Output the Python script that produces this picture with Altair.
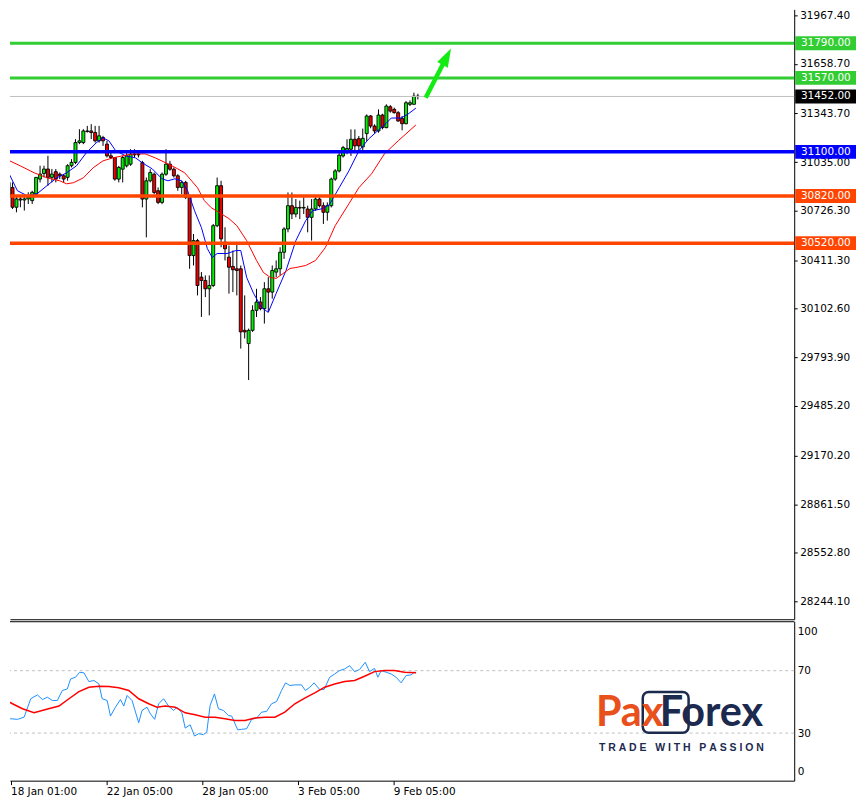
import altair as alt
import pandas as pd

# ---------------- data ----------------
bar_index = list(range(1, 106))
candle_open = [30822, 30874, 30748, 30801, 30794, 30801, 30790, 30832, 30927, 30963,
               30991, 30938, 30974, 30959, 30948, 30938, 31012, 31033, 31159, 31159,
               31229, 31233, 31223, 31170, 31191, 31149, 31075, 31064, 30927, 30990,
               31011, 31022, 31081, 31085, 31032, 30800, 30916, 30958, 30853, 30779,
               30958, 31022, 30990, 30948, 30874, 30906, 30811, 30441, 30536, 30304,
               30283, 30230, 30251, 30631, 30885, 30526, 30431, 30372, 30357, 30357,
               29966, 29882, 29966, 30093, 30146, 30104, 30230, 30209, 30336, 30357,
               30462, 30610, 30758, 30705, 30747, 30743, 30737, 30684, 30737, 30800,
               30758, 30716, 30758, 30927, 30979, 31074, 31106, 31117, 31180, 31184,
               31131, 31216, 31328, 31264, 31233, 31334, 31254, 31387, 31370, 31349,
               31313, 31279, 31402, 31402, 31454]
candle_high = [30927, 30906, 30822, 30822, 30822, 30843, 30853, 30938, 31012, 31012,
               31075, 30991, 30991, 30969, 30959, 31022, 31054, 31181, 31244, 31244,
               31265, 31276, 31265, 31265, 31202, 31170, 31096, 31064, 31011, 31075,
               31106, 31117, 31117, 31096, 31043, 30937, 30990, 30969, 30874, 30969,
               31117, 31043, 31001, 30958, 30916, 30916, 30821, 30578, 30547, 30336,
               30315, 30315, 30642, 30937, 30916, 30621, 30505, 30473, 30526, 30378,
               30188, 29977, 30125, 30230, 30177, 30272, 30304, 30378, 30410, 30494,
               30621, 30842, 30842, 30800, 30790, 30811, 30758, 30800, 30811, 30811,
               30779, 30779, 30937, 30990, 31096, 31138, 31180, 31243, 31243, 31201,
               31248, 31338, 31334, 31275, 31370, 31342, 31402, 31397, 31381, 31359,
               31328, 31423, 31427, 31476, 31469]
candle_low = [30611, 30737, 30716, 30748, 30727, 30769, 30769, 30822, 30906, 30938,
              30885, 30906, 30906, 30927, 30906, 30917, 31001, 31022, 31149, 31149,
              31223, 31181, 31159, 31159, 31138, 31064, 31054, 30917, 30906, 30906,
              31001, 31011, 31064, 31064, 30747, 30557, 30906, 30832, 30768, 30768,
              30948, 30980, 30937, 30853, 30832, 30800, 30357, 30378, 30188, 30051,
              30177, 30061, 30241, 30621, 30494, 30410, 30199, 30209, 30188, 29850,
              29914, 29650, 29956, 30051, 30093, 30009, 30082, 30167, 30304, 30315,
              30420, 30589, 30673, 30684, 30673, 30705, 30589, 30536, 30726, 30747,
              30642, 30663, 30747, 30916, 30969, 31064, 31085, 31074, 31096, 31106,
              31106, 31170, 31250, 31216, 31222, 31243, 31250, 31349, 31343, 31292,
              31237, 31275, 31391, 31402, 31433]
candle_close = [30906, 30748, 30801, 30794, 30801, 30811, 30843, 30938, 30959, 30991,
                30938, 30959, 30927, 30948, 30927, 31012, 31033, 31159, 31170, 31233,
                31233, 31223, 31170, 31202, 31170, 31075, 31064, 30927, 31001, 31064,
                31075, 31085, 31085, 31081, 30800, 30916, 30969, 30842, 30779, 30958,
                31022, 30990, 30948, 30874, 30906, 30811, 30441, 30536, 30251, 30283,
                30230, 30251, 30631, 30885, 30547, 30484, 30367, 30351, 30346, 29956,
                29956, 29966, 30093, 30146, 30104, 30230, 30209, 30346, 30357, 30462,
                30610, 30758, 30705, 30747, 30743, 30747, 30684, 30737, 30800, 30758,
                30716, 30758, 30927, 30979, 31079, 31127, 31121, 31180, 31138, 31138,
                31186, 31328, 31264, 31233, 31334, 31254, 31391, 31359, 31349, 31296,
                31279, 31412, 31412, 31454, 31452]

ma_fast_x = [0.75, 3.25, 5.75, 8.25, 10.75, 13.25, 15.75, 18.25, 20.75, 23.25, 25, 26.5,
             28.25, 30.75, 33.25, 35, 37.5, 40, 41.5, 43.25, 45, 46.5, 48.25, 50, 51.5,
             52.75, 54, 56.5, 58.75, 60, 61.5, 63.25, 65.25, 67, 69, 71.5, 74, 76.5,
             78.25, 80.75, 82.5, 85, 87.5, 90, 92.5, 95, 97, 98.25, 100.75, 102.5, 104.5]
ma_fast_y = [30980, 30853, 30821, 30834, 30885, 30935, 30967, 31011, 31094, 31157, 31189,
             31170, 31106, 31075, 31062, 31030, 30992, 30929, 30916, 30929, 30916, 30853,
             30726, 30619, 30486, 30429, 30454, 30454, 30473, 30473, 30302, 30201, 30112,
             30080, 30201, 30346, 30536, 30663, 30726, 30739, 30764, 30872, 30980, 31106,
             31182, 31239, 31283, 31315, 31315, 31340, 31378]

ma_slow_x = [0.75, 4, 7.5, 10.75, 14, 15.75, 17.5, 20, 22.5, 25, 27.5, 30, 32.5, 35.75,
             38.25, 41.5, 44, 45.75, 47.5, 49, 50.75, 52.5, 55, 57, 59, 61.5, 64, 65.75,
             67.5, 69, 70.75, 72.5, 74, 76.5, 79, 81.5, 84, 87.5, 90, 93.25, 96.5, 100, 104.5]
ma_slow_y = [31049, 31011, 30967, 30935, 30916, 30897, 30904, 30935, 30999, 31043, 31062,
             31075, 31087, 31087, 31062, 31024, 30992, 30967, 30916, 30872, 30790, 30745,
             30707, 30676, 30631, 30536, 30410, 30334, 30302, 30296, 30327, 30359, 30365,
             30378, 30410, 30492, 30631, 30771, 30872, 30961, 31087, 31170, 31271]

rsi_x = [0.75, 1.75, 2.83, 4.5, 6.17, 7.83, 9.5, 10.75, 12, 13.25,
         14.5, 15.75, 17, 17.83, 19.08, 20.08, 21.17, 22.42, 23.67, 24.92,
         25.75, 27, 27.83, 29.08, 30.33, 31.17, 32, 33.25, 34.92, 35.75,
         37, 37.83, 38.92, 39.92, 41.17, 42.42, 43.67, 44.5, 45.75, 46.58,
         47.83, 48.92, 49.92, 51.17, 52, 52.83, 53.92, 54.92, 56.17, 57.42,
         58.25, 59.75, 60.75, 62, 63.25, 64.5, 65.75, 67, 68.25, 69.5,
         70.75, 71.75, 72.83, 74.08, 75.75, 76.75, 77.83, 78.92, 80.33, 81.42,
         82.83, 84.08, 85.33, 86.58, 87.83, 89.08, 90.33, 91.75, 92.83, 94.08,
         94.92, 95.75, 97, 98.25, 99.5, 100.75, 102, 103.25, 104.08, 104.5]
rsi_y = [44.5, 38.1, 39.2, 38.8, 40.2, 52, 54.5, 51.5, 53, 50.9,
         50.9, 57.3, 58.3, 64.7, 65.8, 69, 68.6, 63, 63.7, 61.6,
         52, 50.9, 40.9, 46.6, 51.5, 47.3, 54.1, 50.9, 36.6, 44.5,
         46.6, 42.4, 38.8, 48.8, 52, 47.3, 44.5, 46.6, 43, 33.2,
         35.3, 28.1, 29.6, 29, 30.7, 47.7, 55.1, 45.6, 44.5, 41.3,
         40.9, 32.1, 32.4, 32.8, 38.8, 39.6, 43.4, 43.9, 48.8, 50.2,
         57.3, 62.2, 60.5, 60.9, 60.9, 57.3, 59.4, 62.2, 57.9, 57.9,
         65.8, 67.9, 70.1, 71.1, 73.2, 69.4, 70.7, 75.4, 69.4, 71.5,
         65.8, 70.1, 69, 67.9, 65.8, 62.2, 66.9, 67.3, 69, 68.6]

rsi_ma_x = [0.75, 3.25, 5.75, 8.67, 11.58, 14.92, 17.42, 19.92, 22.42, 24.92, 27.42,
            29.92, 32.42, 34.92, 37.42, 39.5, 41.58, 44.08, 46.58, 49.08, 51.58, 54.08,
            56.58, 59.08, 61.58, 64.08, 66.58, 69.08, 71.58, 74.08, 76.58, 79.08, 81.58,
            84.08, 86.58, 89.08, 91.58, 94.08, 96.58, 99.08, 101.58, 104.5]
rsi_ma_y = [52.4, 48.8, 45.6, 43, 45.1, 47.3, 52, 56.6, 59.4, 60, 59.8, 59, 57.3, 52,
            48.8, 46.6, 47.3, 46.6, 43, 41.7, 40.2, 40.2, 39.2, 38.1, 38.1, 39.6, 40.2,
            40.2, 43.4, 48.8, 52.4, 55.8, 59.4, 61.5, 63, 63.7, 66.4, 69.4, 70.1, 70.1,
            69, 68.6]

level_prices = [31790.0, 31570.0, 31100.0, 30820.0, 30520.0]
level_colors = ["#32cd32", "#32cd32", "#0000ff", "#ff4500", "#ff4500"]
level_widths = [3, 3, 3.5, 3.5, 3.5]
bid_price = 31452.0
bid_color = "#000000"

price_ticks = [31967.40, 31658.70, 31343.70, 31035.00, 30726.30, 30411.30, 30102.60,
               29793.90, 29485.20, 29170.20, 28861.50, 28552.80, 28244.10]
time_tick_pos = [2.75, 26.75, 50.75, 74.75, 98.75]
time_tick_labels = ["18 Jan 01:00", "22 Jan 05:00", "28 Jan 05:00", "3 Feb 05:00", "9 Feb 05:00"]
rsi_levels = [70, 30]
rsi_tick_pos = [95.3, 70, 30, 5.3]
rsi_tick_labels = ["100", "70", "30", "0"]

logo_words = ["Pax", "Forex"]
logo_tagline = "TRADE WITH PASSION"

arrow_x = [107.0, 111.75]
arrow_y = [31443.7, 31676.0]
arrow_head_x = [112.35]
arrow_head_y = [31704.6]
arrow_angle = 27.5

# ---------------- layout ----------------
W = 787
H_MAIN = 612
H_RSI = 160
FONT = "DejaVu Sans"
FS = 10.5

x_scale = alt.Scale(domain=[2.625, 199.375], nice=False, zero=False)
y_scale = alt.Scale(domain=[28130.2, 32005.3], nice=False, zero=False)
rsi_scale = alt.Scale(domain=[-0.5, 101.7], nice=False, zero=False)

candles = pd.DataFrame({"n": bar_index, "o": candle_open, "h": candle_high,
                        "l": candle_low, "c": candle_close})
candles["lo"] = candles[["o", "c"]].min(axis=1)
candles["hi"] = candles[["o", "c"]].max(axis=1)
candles["dir"] = ["up" if c >= o else "down" for o, c in zip(candle_open, candle_close)]

x_main = alt.X("n:Q", scale=x_scale,
               axis=alt.Axis(labels=False, ticks=False, domain=True, domainColor="black",
                             grid=False, title=None))
y_main = alt.Y("l:Q", scale=y_scale,
               axis=alt.Axis(orient="right", values=price_ticks, format=".2f", grid=False,
                             title=None, tickSize=3, tickColor="black", domainColor="black",
                             labelColor="black", labelFont=FONT, labelFontSize=FS,
                             labelPadding=2.5, labelOverlap=False, labelFlush=False))

wicks = alt.Chart(candles).mark_rule(color="black", strokeWidth=1, clip=True).encode(
    x=x_main, y=y_main, y2="h:Q")

bodies = alt.Chart(candles).mark_bar(width=3, stroke="black", strokeWidth=0.9, clip=True).encode(
    x=alt.X("n:Q", scale=x_scale),
    y=alt.Y("lo:Q", scale=y_scale),
    y2="hi:Q",
    color=alt.Color("dir:N", scale=alt.Scale(domain=["up", "down"], range=["#00f000", "#ee0000"]),
                    legend=None))

fast_df = pd.DataFrame({"n": ma_fast_x, "p": ma_fast_y})
slow_df = pd.DataFrame({"n": ma_slow_x, "p": ma_slow_y})
ma_fast = alt.Chart(fast_df).mark_line(color="#0000ff", strokeWidth=1, clip=True).encode(
    x=alt.X("n:Q", scale=x_scale), y=alt.Y("p:Q", scale=y_scale))
ma_slow = alt.Chart(slow_df).mark_line(color="#ff0000", strokeWidth=1, clip=True).encode(
    x=alt.X("n:Q", scale=x_scale), y=alt.Y("p:Q", scale=y_scale))

levels_df = pd.DataFrame({"p": level_prices, "col": level_colors, "w": level_widths})
bid_df = pd.DataFrame({"p": [bid_price]})
bid_line = alt.Chart(bid_df).mark_rule(color="#c0c0c0", strokeWidth=1).encode(
    y=alt.Y("p:Q", scale=y_scale))
level_lines = alt.Chart(levels_df).mark_rule().encode(
    y=alt.Y("p:Q", scale=y_scale),
    color=alt.Color("col:N", scale=None),
    strokeWidth=alt.StrokeWidth("w:Q", scale=None))

tags_df = pd.DataFrame({"p": level_prices + [bid_price],
                        "col": level_colors + [bid_color]})
tags_df["txt"] = [f"{v:.2f}" for v in tags_df["p"]]
tag_boxes = alt.Chart(tags_df).mark_tick(orient="horizontal", thickness=14, size=61,
                                         opacity=1, clip=False).encode(
    x=alt.value(W + 31.5),
    y=alt.Y("p:Q", scale=y_scale),
    color=alt.Color("col:N", scale=None))
tag_text = alt.Chart(tags_df).mark_text(align="left", baseline="middle", color="white",
                                        font=FONT, fontSize=FS, clip=False).encode(
    x=alt.value(W + 6.7),
    y=alt.Y("p:Q", scale=y_scale),
    text="txt:N")

arrow_df = pd.DataFrame({"n": arrow_x, "p": arrow_y})
arrow_shaft = alt.Chart(arrow_df).mark_line(color="#13ec13", strokeWidth=4.5, clip=True).encode(
    x=alt.X("n:Q", scale=x_scale), y=alt.Y("p:Q", scale=y_scale))
head_df = pd.DataFrame({"n": arrow_head_x, "p": arrow_head_y})
arrow_head = alt.Chart(head_df).mark_point(
    shape="M0,-1L-0.65,1L0.65,1Z", filled=True, size=342, angle=arrow_angle,
    color="#13ec13", opacity=1, strokeWidth=0).encode(
    x=alt.X("n:Q", scale=x_scale), y=alt.Y("p:Q", scale=y_scale))

main = alt.layer(wicks, bodies, ma_fast, ma_slow, bid_line, level_lines,
                 arrow_shaft, arrow_head, tag_boxes, tag_text).properties(
    width=W, height=H_MAIN)

# ---------------- RSI panel ----------------
def lookup_expr(pos, labels, tol):
    expr = "''"
    for p, lab in reversed(list(zip(pos, labels))):
        expr = f"abs(datum.value - {p}) < {tol} ? '{lab}' : " + expr
    return expr

x_rsi = alt.X("n:Q", scale=x_scale,
              axis=alt.Axis(values=time_tick_pos, labelExpr=lookup_expr(time_tick_pos, time_tick_labels, 1),
                            labelAlign="left", labelPadding=2, tickSize=4, tickColor="black",
                            domainColor="black", labelColor="black", labelFont=FONT,
                            labelFontSize=FS, labelOverlap=False, labelFlush=False,
                            labelBound=False, grid=False, title=None))
y_rsi = alt.Y("v:Q", scale=rsi_scale,
              axis=alt.Axis(orient="right", values=rsi_tick_pos,
                            labelExpr=lookup_expr(rsi_tick_pos, rsi_tick_labels, 1),
                            ticks=False, labelPadding=3, domainColor="black", labelColor="black",
                            labelFont=FONT, labelFontSize=FS, labelOverlap=False,
                            labelFlush=False, grid=False, title=None))

rsi_df = pd.DataFrame({"n": rsi_x, "v": rsi_y})
rsi_ma_df = pd.DataFrame({"n": rsi_ma_x, "v": rsi_ma_y})
lev_df = pd.DataFrame({"v": rsi_levels})

rsi_levels_layer = alt.Chart(lev_df).mark_rule(color="#c0c0c0", strokeWidth=1,
                                               strokeDash=[3, 3]).encode(
    y=alt.Y("v:Q", scale=rsi_scale))
rsi_line = alt.Chart(rsi_df).mark_line(color="#1e90ff", strokeWidth=1, clip=True).encode(
    x=x_rsi, y=y_rsi)
rsi_ma_line = alt.Chart(rsi_ma_df).mark_line(color="#ff0000", strokeWidth=1.5, clip=True).encode(
    x=alt.X("n:Q", scale=x_scale), y=alt.Y("v:Q", scale=rsi_scale))
top_border = alt.Chart(pd.DataFrame({"k": [0]})).mark_rule(color="black", strokeWidth=1).encode(
    x=alt.value(0), x2=alt.value(W), y=alt.value(0.5))

# spaced-out tagline (non-breaking spaces so SVG keeps them)
NB = "\u00a0"
spaced_tagline = (NB * 3).join(NB.join(word) for word in logo_tagline.split(" "))
logo_df = pd.DataFrame({"a": [logo_words[0]], "b": [logo_words[1]], "t": [spaced_tagline]})
logo_box = alt.Chart(logo_df).mark_rect(fillOpacity=0, stroke="#1b2a4e", strokeWidth=2.5,
                                        cornerRadius=6).encode(
    x=alt.value(635), x2=alt.value(681), y=alt.value(71), y2=alt.value(112))
logo_pax = alt.Chart(logo_df).mark_text(align="left", baseline="alphabetic", font="Lato",
                                        fontWeight="bold", fontSize=41.5, color="#e8501c").encode(
    x=alt.value(588), y=alt.value(105), text="a:N")
logo_forex = alt.Chart(logo_df).mark_text(align="left", baseline="alphabetic", font="Lato",
                                          fontWeight="bold", fontSize=41.5, color="#1b2a4e").encode(
    x=alt.value(652), y=alt.value(105), text="b:N")
logo_tag = alt.Chart(logo_df).mark_text(align="left", baseline="alphabetic",
                                        font="Liberation Sans", fontWeight="bold", fontSize=10.5,
                                        color="#1b2a4e").encode(
    x=alt.value(591), y=alt.value(130), text="t:N")

rsi = alt.layer(rsi_levels_layer, rsi_line, rsi_ma_line, top_border,
                logo_box, logo_pax, logo_forex, logo_tag).properties(width=W, height=H_RSI)

chart = alt.vconcat(main, rsi, spacing=2).properties(padding=0, background="white").configure_view(
    stroke=None).configure_concat(spacing=2)

chart.save("out.html", embed_options={"renderer": "svg", "actions": False})
